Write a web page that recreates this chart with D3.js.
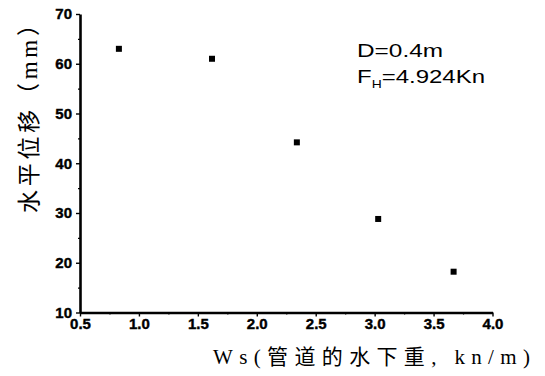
<!DOCTYPE html>
<html><head><meta charset="utf-8">
<script src="https://cdn.jsdelivr.net/npm/d3@7"></script>
<style>body{margin:0;background:#fff}</style>
</head><body>
<svg id="c" width="545" height="376"></svg>
<script>
const wsValues = [0.83, 1.62, 2.34, 3.03, 3.67];
const dispValues = [63.0, 61.0, 44.2, 28.8, 18.2];
const xTicks = [0.5, 1.0, 1.5, 2.0, 2.5, 3.0, 3.5, 4.0];
const yTicks = [10, 20, 30, 40, 50, 60, 70];
const xMinor = [0.75, 1.25, 1.75, 2.25, 2.75, 3.25, 3.75];
const yMinor = [15, 25, 35, 45, 55, 65];
const xTitle = "Ws(管道的水下重, kn/m)";
const yTitle = "水平位移（mm）";

const svg = d3.select("#c");
const x = d3.scaleLinear().domain([0.5, 4.0]).range([80, 492.5]);
const y = d3.scaleLinear().domain([10, 70]).range([312.5, 14]);
const tickFont = "'Liberation Sans', Arial, sans-serif";

// minor ticks
svg.append("g").attr("transform","translate(0,312.5)")
  .call(d3.axisBottom(x).tickValues(xMinor).tickSize(2).tickFormat(""))
  .call(g=>g.select(".domain").remove())
  .selectAll("line").attr("stroke","#000").attr("stroke-width",1.2);
svg.append("g").attr("transform","translate(80,0)")
  .call(d3.axisLeft(y).tickValues(yMinor).tickSize(2).tickFormat(""))
  .call(g=>g.select(".domain").remove())
  .selectAll("line").attr("stroke","#000").attr("stroke-width",1.2);

// major axes
const xa = svg.append("g").attr("transform","translate(0,312.5)")
  .call(d3.axisBottom(x).tickValues(xTicks).tickSize(4).tickSizeOuter(0).tickPadding(2).tickFormat(d3.format(".1f")));
xa.select(".domain").attr("stroke","#000").attr("stroke-width",2.4);
xa.selectAll("line").attr("stroke","#000").attr("stroke-width",1.4);
xa.selectAll("text").attr("font-family",tickFont).attr("font-weight","bold").attr("font-size",15).attr("fill","#000")
  .attr("stroke","#000").attr("stroke-width",0.4);

const ya = svg.append("g").attr("transform","translate(80,0)")
  .call(d3.axisLeft(y).tickValues(yTicks).tickSize(4).tickSizeOuter(0).tickPadding(4));
ya.select(".domain").attr("stroke","#000").attr("stroke-width",2.6);
ya.selectAll("line").attr("stroke","#000").attr("stroke-width",1.4);
ya.selectAll("text").attr("font-family",tickFont).attr("font-weight","bold").attr("font-size",15).attr("fill","#000")
  .attr("stroke","#000").attr("stroke-width",0.4);

// points
svg.append("g").selectAll("rect").data(wsValues.map((v,i)=>[v,dispValues[i]]))
  .join("rect")
  .attr("x",d=>x(d[0])-3).attr("y",d=>y(d[1])-3)
  .attr("width",6).attr("height",6).attr("fill","#000");

// axis titles
svg.append("text").attr("x",213).attr("y",364)
  .attr("font-family","'Liberation Serif','DejaVu Serif','Noto Sans CJK SC',serif")
  .attr("font-size",21).attr("fill","#000")
  .attr("textLength",317).attr("lengthAdjust","spacing").text(xTitle);

svg.append("text").attr("transform","translate(37,213) rotate(-90)")
  .attr("font-family","'Liberation Serif','Noto Sans CJK SC',serif")
  .attr("font-size",23).attr("fill","#000")
  .attr("textLength",200).attr("lengthAdjust","spacing").text(yTitle);

// annotations
svg.append("text").attr("x",357).attr("y",57)
  .attr("font-family",tickFont).attr("font-size",19).attr("fill","#000")
  .attr("textLength",86).attr("lengthAdjust","spacingAndGlyphs").text("D=0.4m");
const t2 = svg.append("text").attr("x",357).attr("y",83)
  .attr("font-family",tickFont).attr("font-size",19).attr("fill","#000")
  .attr("textLength",128).attr("lengthAdjust","spacingAndGlyphs");
t2.append("tspan").text("F");
t2.append("tspan").attr("font-size",11).attr("dy",5).text("H");
t2.append("tspan").attr("dy",-5).text("=4.924Kn");
</script>
</body></html>
